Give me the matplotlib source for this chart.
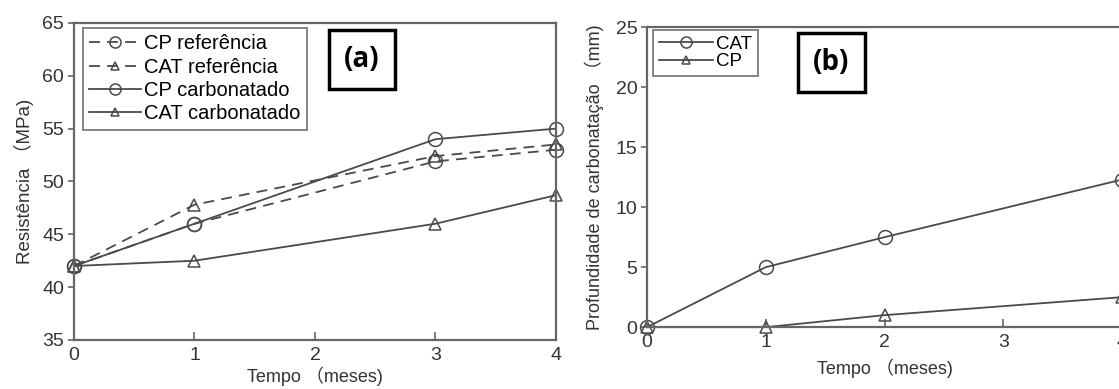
import matplotlib
matplotlib.use('Agg')
import matplotlib.pyplot as plt

plt.rcParams['font.family'] = ['Liberation Sans', 'Noto Sans CJK SC']

# panel (a): resistance
meses_a = [0, 1, 3, 4]
cp_ref = [42, 46, 51.9, 53.0]
cat_ref = [42, 47.8, 52.4, 53.5]
cp_carb = [42, 46, 54, 55]
cat_carb = [42, 42.5, 46, 48.7]

# panel (b): carbonation depth
meses_b = [0, 1, 2, 4]
prof_cat = [0, 5, 7.5, 12.3]
prof_cp = [0, 0, 1, 2.5]

ticks_x = [0, 1, 2, 3, 4]
ticks_a = [35, 40, 45, 50, 55, 60, 65]
ticks_b = [0, 5, 10, 15, 20, 25]

LINE = '#4a4a4a'
SPINE = '#666666'
TXT = '#333333'


def style_axes(ax):
    for s in ax.spines.values():
        s.set_color(SPINE)
        s.set_linewidth(1.6)
    ax.tick_params(axis='x', direction='in', length=6, width=1.2, color=SPINE,
                   labelsize=14, labelcolor=TXT, pad=5)
    ax.tick_params(axis='y', direction='out', length=4, width=1.2, color=SPINE,
                   labelsize=14, labelcolor=TXT, pad=3)


fig = plt.figure(figsize=(11.19, 3.89), dpi=100)

ax1 = fig.add_axes([0.0661, 0.126, 0.4307, 0.815])
mk = dict(markersize=10, markerfacecolor='none', markeredgewidth=1.1, clip_on=False)
ax1.plot(meses_a, cp_ref, color=LINE, lw=1.3, ls=(0, (6, 4)), marker='o', label='CP referência', **mk)
ax1.plot(meses_a, cat_ref, color=LINE, lw=1.3, ls=(0, (6, 4)), marker='^', label='CAT referência',
         **{**mk, 'markersize': 8})
ax1.plot(meses_a, cp_carb, color=LINE, lw=1.3, marker='o', label='CP carbonatado', **mk)
ax1.plot(meses_a, cat_carb, color=LINE, lw=1.3, marker='^', label='CAT carbonatado',
         **{**mk, 'markersize': 8})
ax1.set_xlim(0, 4)
ax1.set_ylim(35, 65)
ax1.set_xticks(ticks_x)
ax1.set_yticks(ticks_a)
style_axes(ax1)
ax1.set_xlabel('Tempo （meses)', fontsize=13, color=TXT, labelpad=2)
ax1.set_ylabel('Resistência （MPa)', fontsize=13.5, color=TXT, labelpad=6)
leg1 = ax1.legend(loc='upper left', bbox_to_anchor=(0.018, 0.985), prop={'size': 14.5}, frameon=True,
                  fancybox=False, edgecolor=SPINE, handlelength=2.6, handletextpad=0.15,
                  labelspacing=0.22, borderpad=0.32, borderaxespad=0, markerscale=0.8)
leg1.get_frame().set_linewidth(1.4)
ax1.text(0.598, 0.885, '(a)', transform=ax1.transAxes, ha='center', va='center',
         fontsize=20, fontweight='bold', family='Open Sans',
         bbox=dict(boxstyle='square,pad=0.55', facecolor='white', edgecolor='black', linewidth=2.5))

ax2 = fig.add_axes([0.5782, 0.159, 0.4245, 0.771])
ax2.plot(meses_b, prof_cat, color=LINE, lw=1.3, marker='o', label='CAT', **mk)
ax2.plot(meses_b, prof_cp, color=LINE, lw=1.3, marker='^', label='CP', **{**mk, 'markersize': 8})
ax2.set_xlim(0, 4)
ax2.set_ylim(0, 25)
ax2.set_xticks(ticks_x)
ax2.set_yticks(ticks_b)
style_axes(ax2)
ax2.set_xlabel('Tempo （meses)', fontsize=13, color=TXT, labelpad=5)
ax2.set_ylabel('Profundidade de carbonatação （mm)', fontsize=13, color=TXT, labelpad=8)
leg2 = ax2.legend(loc='upper left', bbox_to_anchor=(0.013, 0.99), prop={'size': 13.5}, frameon=True,
                  fancybox=False, edgecolor=SPINE, handlelength=2.9, handletextpad=0.15,
                  labelspacing=0.0, borderpad=0.3, borderaxespad=0, markerscale=0.8)
leg2.get_frame().set_linewidth(1.4)
ax2.text(0.388, 0.883, '(b)', transform=ax2.transAxes, ha='center', va='center',
         fontsize=20, fontweight='bold', family='Open Sans',
         bbox=dict(boxstyle='square,pad=0.55', facecolor='white', edgecolor='black', linewidth=2.5))

fig.savefig('out.png', dpi=100)
